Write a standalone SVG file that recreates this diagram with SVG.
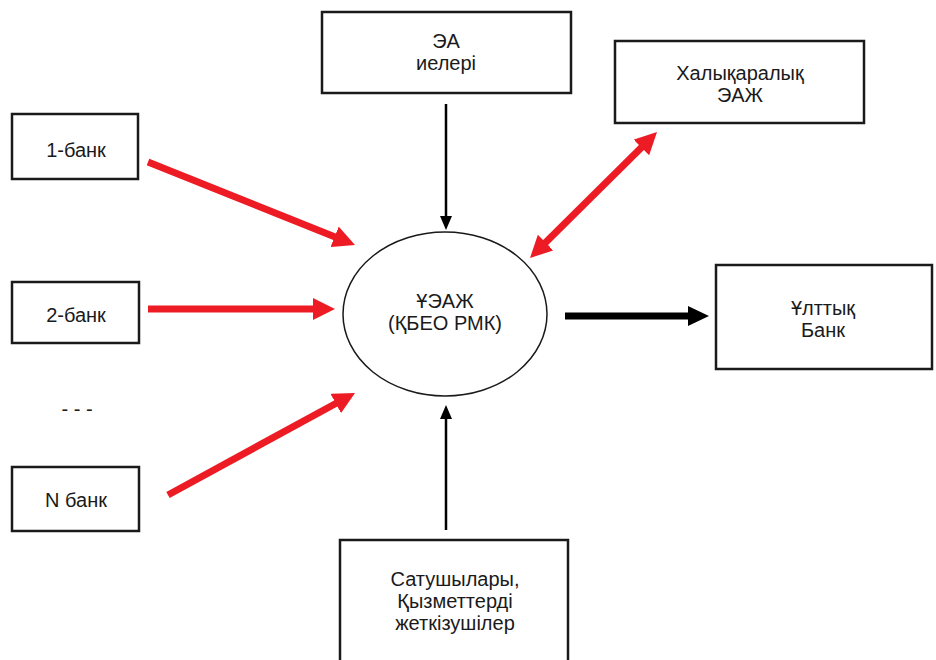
<svg xmlns="http://www.w3.org/2000/svg" width="936" height="660" viewBox="0 0 936 660">
<style>
.box{fill:#fff;stroke:#1a1a1a;stroke-width:2.5}
.t{font-family:"Liberation Sans",Arial,sans-serif;font-size:20px;fill:#1a1a1a;text-anchor:middle}
.red{stroke:#ED1C24;stroke-width:7;fill:none}
.blk{stroke:#000;stroke-width:7;fill:none}
.thin{stroke:#000;stroke-width:2.5;fill:none}
</style>
<defs>
<marker id="rh" viewBox="0 0 22 22" refX="10" refY="11" markerWidth="22" markerHeight="22" markerUnits="userSpaceOnUse" orient="auto-start-reverse"><path d="M0,0 L22,11 L0,22 z" fill="#ED1C24"/></marker>
<marker id="bh" viewBox="0 0 21 20" refX="9" refY="10" markerWidth="21" markerHeight="20" markerUnits="userSpaceOnUse" orient="auto"><path d="M0,0 L21,10 L0,20 z" fill="#000"/></marker>
<marker id="th" viewBox="0 0 14 12" refX="6" refY="6" markerWidth="14" markerHeight="12" markerUnits="userSpaceOnUse" orient="auto"><path d="M0,0 L14,6 L0,12 z" fill="#000"/></marker>
</defs>
<rect width="936" height="660" fill="#fff"/>
<g id="bank1"><rect class="box" x="12" y="114" width="126" height="65"/><text class="t" x="76" y="157">1-банк</text></g>
<g id="bank2"><rect class="box" x="12" y="282" width="127" height="61"/><text class="t" x="76" y="322">2-банк</text></g>
<g id="dots"><text class="t" x="77" y="416">- - -</text></g>
<g id="bankN"><rect class="box" x="12" y="467" width="127" height="64"/><text class="t" x="76" y="507">N банк</text></g>
<g id="ea"><rect class="box" x="322" y="12" width="249" height="81"/><text class="t" x="446" y="48">ЭА</text><text class="t" x="446" y="70">иелері</text></g>
<g id="intl"><rect class="box" x="615" y="41" width="249" height="82"/><text class="t" x="740" y="80">Халықаралық</text><text class="t" x="740" y="102">ЭАЖ</text></g>
<g id="natbank"><rect class="box" x="716" y="265" width="216" height="104"/><text class="t" x="823" y="315">Ұлттық</text><text class="t" x="823" y="337">Банк</text></g>
<g id="sellers"><rect class="box" x="340" y="540" width="228" height="125"/><text class="t" x="455" y="586">Сатушылары,</text><text class="t" x="455" y="608">Қызметтерді</text><text class="t" x="455" y="630">жеткізушілер</text></g>
<g id="center"><ellipse cx="445" cy="314" rx="102" ry="82" fill="#fff" stroke="#1a1a1a" stroke-width="1.5"/><text class="t" x="445" y="308">ҰЭАЖ</text><text class="t" x="445" y="330">(ҚБЕО РМК)</text></g>
<g id="connectors">
<line class="red" x1="148" y1="162" x2="343.9" y2="240.5" marker-end="url(#rh)"/>
<line class="red" x1="148" y1="309" x2="323" y2="309" marker-end="url(#rh)"/>
<line class="red" x1="168" y1="495" x2="344.5" y2="398.7" marker-end="url(#rh)"/>
<line class="red" x1="538.5" y1="249.6" x2="648.5" y2="140.4" marker-start="url(#rh)" marker-end="url(#rh)"/>
<line class="blk" x1="565" y1="316" x2="697" y2="316" marker-end="url(#bh)"/>
<line class="thin" x1="446" y1="104" x2="446" y2="222" marker-end="url(#th)"/>
<line class="thin" x1="446" y1="530" x2="446" y2="413" marker-end="url(#th)"/>
</g>
</svg>
